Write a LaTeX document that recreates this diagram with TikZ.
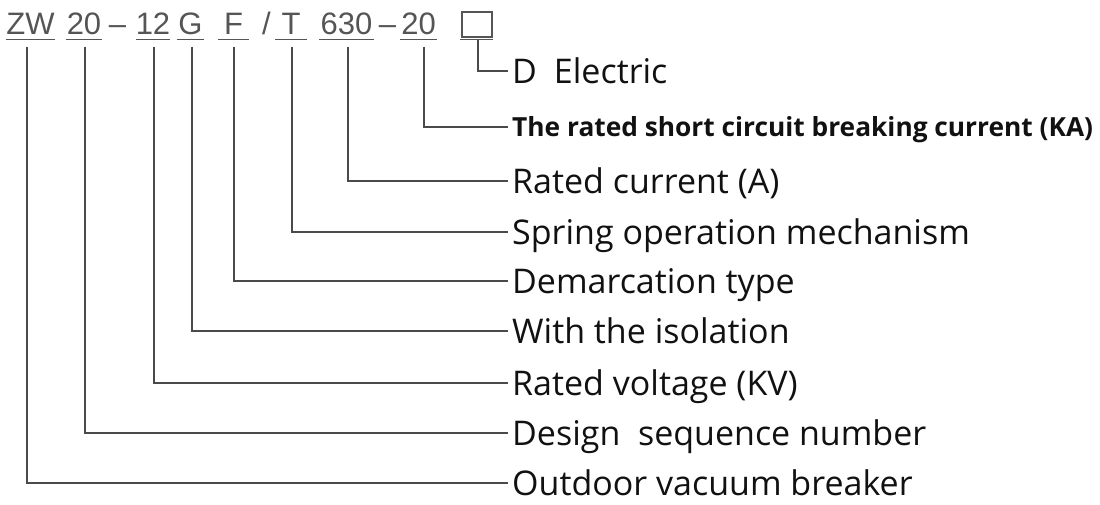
\documentclass[tikz,border=0pt]{standalone}
\usepackage{fontspec}
\setmainfont{Open Sans}
\newfontfamily\codefont{Liberation Sans}

\definecolor{codegray}{HTML}{555555}
\definecolor{linegray}{HTML}{4A4A4A}
\definecolor{labelblack}{HTML}{111111}

\tikzset{
  code/.style={anchor=base, inner xsep=0pt, inner ysep=5.5pt, text depth=0pt,
    font=\codefont\fontsize{31}{31}\selectfont, text=codegray},
  uline/.style={draw=codegray, line width=1.5pt},
  sqbox/.style={draw=codegray, line width=1.5pt, minimum width=30pt, minimum height=25pt, inner sep=0pt},
  lead/.style={draw=linegray, line width=2pt},
  desc/.style={anchor=west, inner xsep=4pt, inner ysep=0pt, text height=25pt, text depth=0pt,
    font=\fontsize{34}{34}\selectfont, text=labelblack},
  descbold/.style={desc, text height=18pt, font=\bfseries\fontsize{26.3}{26.3}\selectfont},
}

\begin{document}
\begin{tikzpicture}[x=1pt, y=-1pt]
        \useasboundingbox (0,0) rectangle (1100,504);

        % type code
        \node[code, minimum width=49pt] (zw) at (30.5,34) {ZW};
        \node[code, minimum width=36pt] (d20) at (84,34) {20};
        \node[code] (dash1) at (117.5,34) {\textendash};
        \node[code, minimum width=30pt] (kv12) at (153,34) {12};
        \node[code, minimum width=27pt] (g) at (190.5,34) {G};
        \node[code, minimum width=31pt] (f) at (233.5,34) {F};
        \node[code] (slash) at (266.5,34) {/};
        \node[code, minimum width=32pt] (t) at (291,34) {T};
        \node[code, minimum width=55pt] (a630) at (346.5,34) {630};
        \node[code] (dash2) at (387.5,34) {\textendash};
        \node[code, minimum width=37pt] (ka20) at (418.5,34) {20};
        \node[code, minimum width=33pt] (dbox) at (476.5,34) {};
        \node[sqbox] (sq) at (477,24.5) {};

        \foreach \n in {zw,d20,kv12,g,f,t,a630,ka20,dbox}
            \draw[uline] (\n.south west) -- (\n.south east);

        % meanings
        \node[desc] (electric) at (508,71) {D\hspace{0.5em}Electric};
        \node[descbold] (breaking) at (508,127) {The rated short circuit breaking current (KA)};
        \node[desc] (current) at (508,181) {Rated current (A)};
        \node[desc] (spring) at (508,232) {Spring operation mechanism};
        \node[desc] (demarc) at (508,281) {Demarcation type};
        \node[desc] (isolation) at (508,331) {With the isolation};
        \node[desc] (voltage) at (508,383) {Rated voltage (KV)};
        \node[desc] (design) at (508,433) {Design\ \ sequence number};
        \node[desc] (outdoor) at (508,483) {Outdoor vacuum breaker};

        % leads
        \draw[lead] ([xshift=1.5pt]dbox.south) |- (electric.west);
        \draw[lead] ([xshift=5.5pt,yshift=-7pt]ka20.south) |- (breaking.west);
        \draw[lead] ([xshift=1.5pt,yshift=-7pt]a630.south) |- (current.west);
        \draw[lead] ([xshift=1pt,yshift=-7pt]t.south) |- (spring.west);
        \draw[lead] ([yshift=-7pt]f.south) |- (demarc.west);
        \draw[lead] ([xshift=1.5pt,yshift=-7pt]g.south) |- (isolation.west);
        \draw[lead] ([xshift=1pt,yshift=-7pt]kv12.south) |- (voltage.west);
        \draw[lead] ([xshift=1pt,yshift=-7pt]d20.south) |- (design.west);
        \draw[lead] ([xshift=-3.5pt,yshift=-7pt]zw.south) |- (outdoor.west);
    \end{tikzpicture}
\end{document}
